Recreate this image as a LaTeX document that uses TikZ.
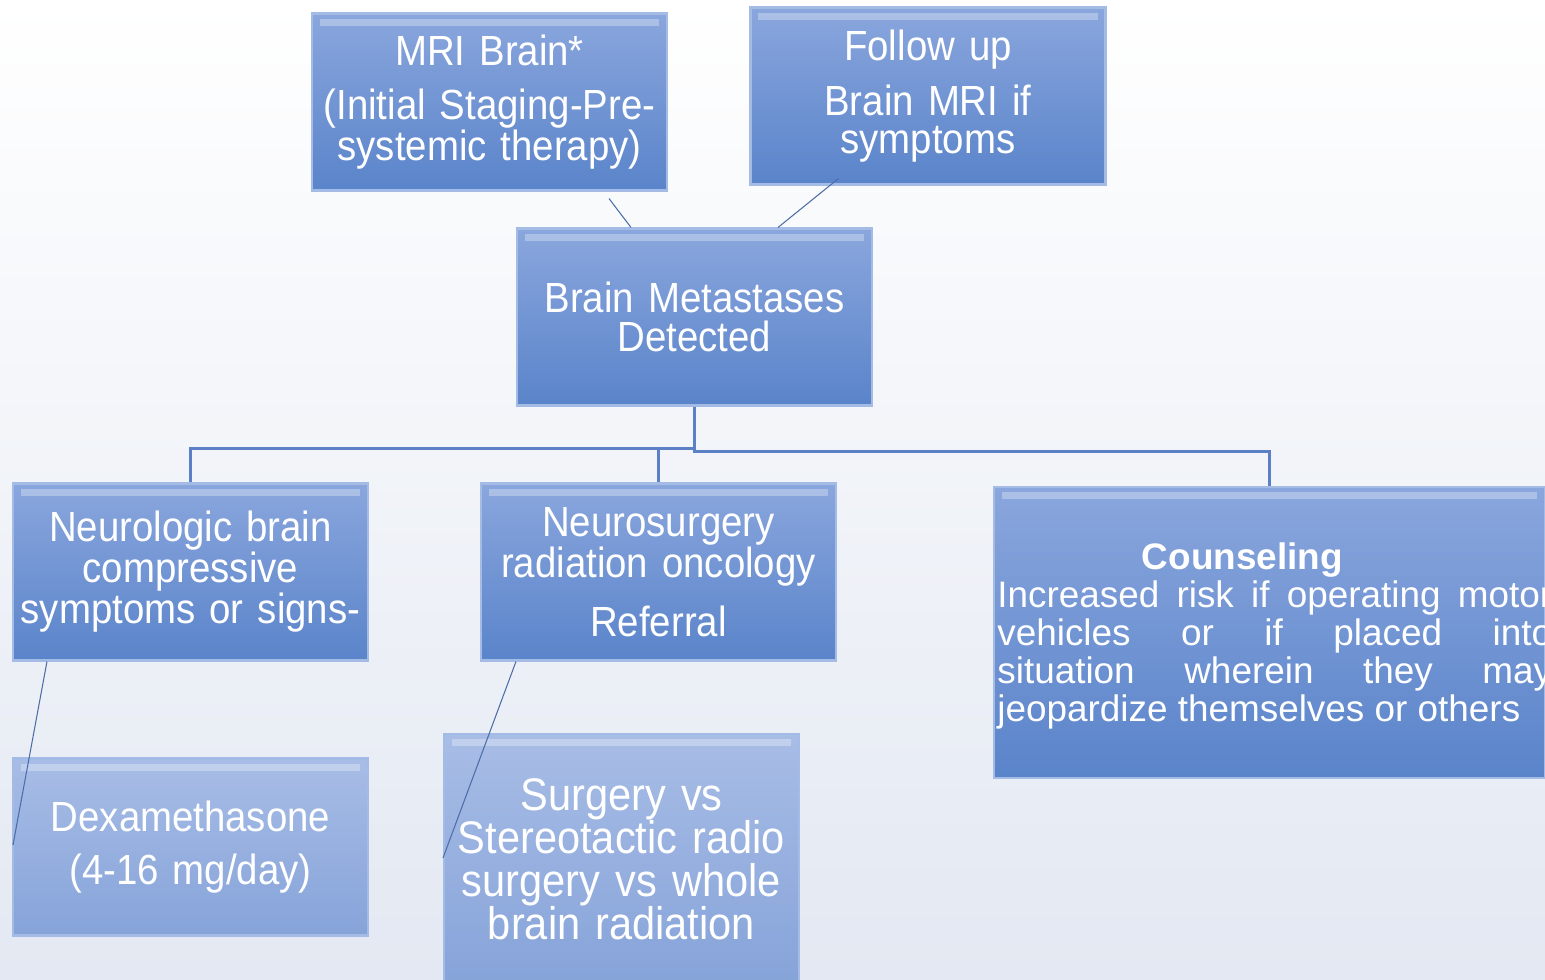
\documentclass[tikz,border=0pt]{standalone}
\usepackage{fontspec}
\setmainfont{Liberation Sans}[FakeStretch=0.91,WordSpace=0.85]
\newfontfamily\countfont{Liberation Sans}
\usetikzlibrary{positioning,calc}

\definecolor{boxtop}{HTML}{8AA6DD}
\definecolor{boxbot}{HTML}{5A84CA}
\definecolor{lowtop}{HTML}{A8BDE6}
\definecolor{lowbot}{HTML}{86A3D9}
\definecolor{boxrim}{HTML}{A4BBE6}
\definecolor{linkblue}{HTML}{5B80C6}
\definecolor{bgbot}{HTML}{E3E8F2}

\tikzset{
  topic/.style={rectangle, draw=boxrim, line width=1.2pt,
    top color=boxtop, bottom color=boxbot, text=white,
    minimum width=7.1cm, minimum height=3.54cm, text width=6.9cm,
    align=center, inner sep=0pt,
    font=\fontsize{24}{22}\selectfont,
    path picture={\draw[white, opacity=0.3, line width=4pt]
      ([shift={(0.15cm,-0.17cm)}]path picture bounding box.north west) --
      ([shift={(-0.15cm,-0.17cm)}]path picture bounding box.north east);}},
  lowtopic/.style={topic, top color=lowtop, bottom color=lowbot},
  tree/.style={linkblue, line width=1.7pt},
  link/.style={linkblue!85!black, line width=0.6pt}
}

\begin{document}
\begin{tikzpicture}[x=0.02cm,y=-0.02cm]
    \useasboundingbox (0,0) rectangle (1545,980);
    \clip (0,0) rectangle (1545,980);
    % background
    \shade[top color=white, bottom color=bgbot] (0,0) rectangle (1545,980);
    % top row
    \node[topic] (mri) at (489.5,102) {MRI Brain*\\[9pt](Initial Staging-Pre-\\systemic therapy)};
    \node[topic] (followup) at (928,96) {Follow up\\[8pt]Brain MRI if\\symptoms};
    \node[topic] (mets) at (694.5,317) {Brain Metastases\\Detected};
    % middle row
    \node[topic] (neuro) at (190.5,572) {Neurologic brain\\compressive\\symptoms or signs-};
    \node[topic] (referral) at (658.5,572) {Neurosurgery\\radiation oncology\\[10pt]Referral};
    \node[topic, minimum width=11.02cm, minimum height=5.82cm] (counsel) at (1269.5,632.5) {};
    \node[text=white, text width=11.1cm, align=justify, inner sep=0pt, anchor=west,
      font=\countfont\fontsize{21}{21.5}\selectfont] (counseltext) at (997,636)
      {\makebox[\linewidth][c]{\bfseries Counseling\hspace{1.3cm}}\par
       Increased risk if operating motor\linebreak vehicles or if placed into\linebreak
       situation wherein they may\linebreak jeopardize themselves or others};
    % tree below
    \draw[tree] (mets.south) -- ++(0,42) -| (neuro.north);
    \draw[tree] (mets.south) -- ++(0,42) -| (referral.north);
    \draw[tree] (mets.south) -- ++(0,45) -| (counsel.north);
    % bottom row
    \node[lowtopic] (dexa) at (190.5,847) {Dexamethasone\\[8pt](4-16 mg/day)};
    \node[lowtopic, minimum height=5cm, font=\fontsize{26}{24.5}\selectfont] (surgery) at (621.5,859)
      {Surgery vs\\Stereotactic radio\\surgery vs whole\\brain radiation};
    % loose links
    \coordinate (mrifoot) at ($(mri.south west)+(298,7)$);
    \coordinate (followfoot) at ($(followup.south west)+(89,-7)$);
    \draw[link] (mrifoot) -- ($(mets.north west)+(115,0)$);
    \draw[link] (followfoot) -- ($(mets.north west)+(262,0)$);
    \draw[link] ($(neuro.south west)+(35,0)$) -- ($(dexa.west)+(1,-2)$);
    \draw[link] ($(referral.south west)+(36,0)$) -- ($(surgery.west)+(0,-1)$);
\end{tikzpicture}
\end{document}
